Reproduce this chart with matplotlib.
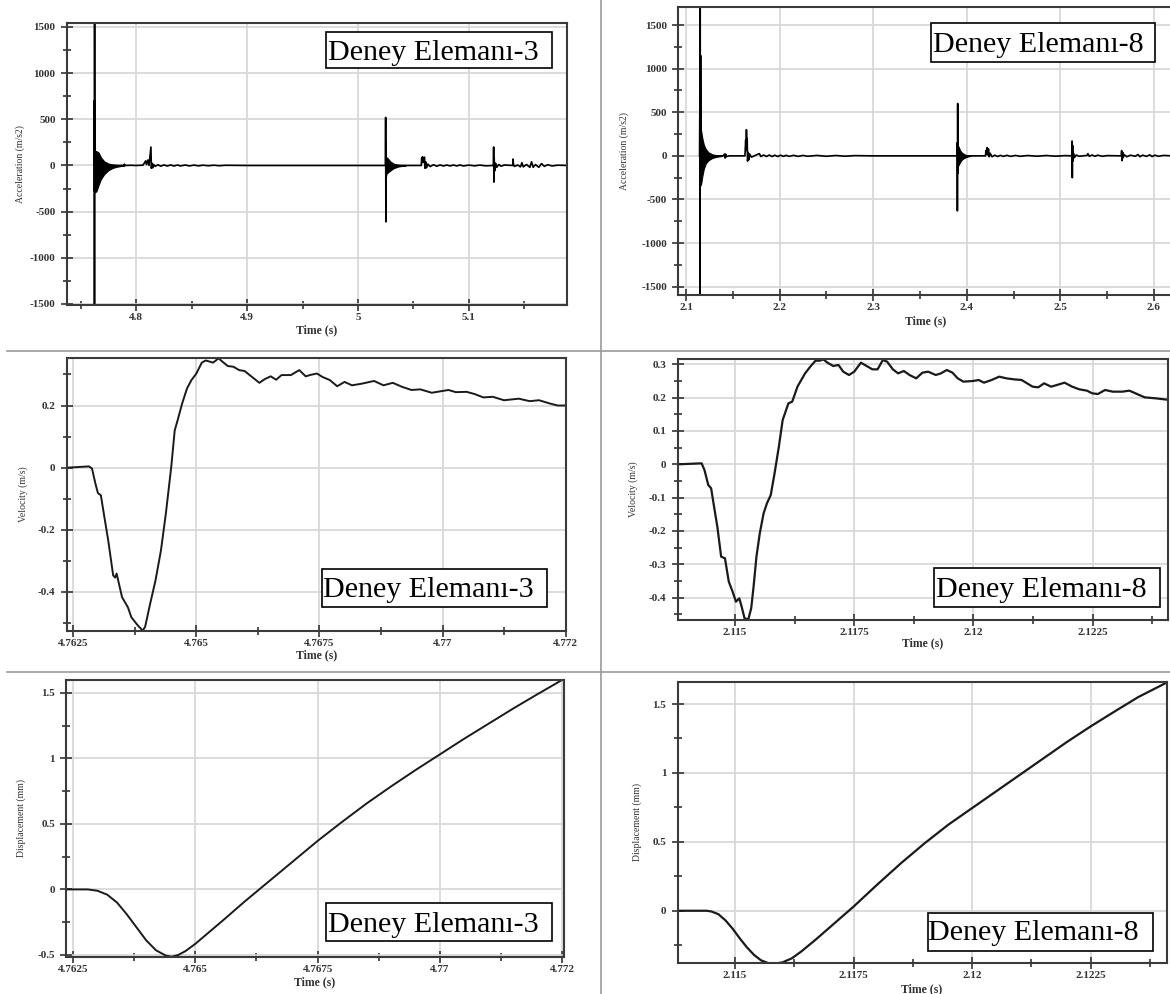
import numpy as np
import matplotlib
matplotlib.use("Agg")
import matplotlib.pyplot as plt
from matplotlib.patches import Rectangle
from matplotlib.lines import Line2D

plt.rcParams['font.family'] = ['Liberation Serif', 'DejaVu Serif']

W, H = 1170, 994

# ---------------- data ----------------
# acceleration, Deney Elemani-3 (time s, m/s2)
acc3 = [(4.7620, 0), (4.7622, 700), (4.7623, -1600), (4.7624, 1600), (4.7625, -280),
        (4.7626, 160), (4.7627, -250), (4.7640, 0), (4.7890, 0), (4.7893, 15), (4.7897, 0),
        (4.7950, 2), (4.8000, 0), (4.8060, 3), (4.8085, 50), (4.8092, 10), (4.8105, 60),
        (4.8115, 0), (4.8132, 200), (4.8136, -30), (4.8142, 25), (4.8148, -25), (4.8155, 12),
        (4.8170, -10), (4.8195, 8), (4.8220, -8), (4.8250, 6), (4.8280, -6), (4.8310, 6),
        (4.8340, -6), (4.8370, 5), (4.8400, -5), (4.8440, 5), (4.8480, -5), (4.8520, 4),
        (4.8560, -4), (4.8600, 3), (4.8650, -3), (4.8700, 3), (4.8750, -3), (4.8800, 2),
        (4.9000, 0), (5.0247, 0), (5.0249, 520), (5.0251, -610), (5.0253, 250), (5.0255, -120),
        (5.0260, 0), (5.0570, 0), (5.0574, 80), (5.0578, 40), (5.0582, 95), (5.0586, 30),
        (5.0600, 90), (5.0604, -30), (5.0610, 40), (5.0618, -25), (5.0630, 15), (5.0650, -12),
        (5.0680, 8), (5.0710, -8), (5.0740, 6), (5.0770, -6), (5.0800, 5), (5.0830, -5),
        (5.0860, 5), (5.0890, -5), (5.0920, 5), (5.0950, -5), (5.1000, 4), (5.1050, -4),
        (5.1100, 4), (5.1150, -4), (5.1221, 0), (5.1223, 200), (5.1225, -180), (5.1228, 80),
        (5.1232, -60), (5.1240, 25), (5.1250, -20), (5.1270, 10), (5.1290, -8), (5.1320, 5),
        (5.1395, 0), (5.1398, 70), (5.1402, 10), (5.1410, -10), (5.1440, 5), (5.1465, -15),
        (5.1478, 30), (5.1490, -15), (5.1520, 10), (5.1550, -20), (5.1565, 40), (5.1580, -20),
        (5.1600, 10), (5.1630, -20), (5.1655, 20), (5.1680, -10), (5.1710, 8), (5.1750, -5),
        (5.1800, 3), (5.1890, 0)]
# dense ringing after impacts: (time, upper envelope, lower envelope)
acc3_ring1 = [(4.7627, 160, -290), (4.7640, 155, -280), (4.7660, 140, -210), (4.7680, 90, -150),
              (4.7710, 45, -95), (4.7750, 20, -50), (4.7790, 10, -25), (4.7830, 5, -12),
              (4.7870, 2, -4), (4.7890, 0, 0)]
acc3_ring2 = [(5.0255, 90, -90), (5.0270, 75, -75), (5.0290, 45, -55), (5.0320, 20, -30),
              (5.0360, 8, -12), (5.0400, 3, -4), (5.0430, 0, 0)]

# acceleration, Deney Elemani-8
acc8 = [(2.1145, 0), (2.1148, 550), (2.1150, -1700), (2.1152, 1800), (2.1154, -350),
        (2.1156, 1150), (2.1158, 320), (2.1160, -300), (2.1170, 0), (2.1395, 0),
        (2.1412, 20), (2.1418, -25), (2.1424, 20), (2.1430, -10), (2.1460, 0), (2.1630, 0),
        (2.1638, 180), (2.1642, 60), (2.1646, 300), (2.1650, 120), (2.1654, 200),
        (2.1658, -60), (2.1665, 40), (2.1672, -45), (2.1680, 20), (2.1700, -15), (2.1740, 5),
        (2.1770, 20), (2.1785, 25), (2.1800, -8), (2.1830, 10), (2.1860, -8), (2.1890, 10),
        (2.1920, -8), (2.1950, 8), (2.1980, -8), (2.2010, 8), (2.2040, -6), (2.2070, 6),
        (2.2100, -6), (2.2150, 6), (2.2200, -6), (2.2250, 5), (2.2300, -5), (2.2400, 5),
        (2.2500, -5), (2.2600, 4), (2.2700, -4), (2.2800, 3), (2.3000, 0), (2.3895, 0),
        (2.3898, 150), (2.3900, -630), (2.3903, 600), (2.3906, -200), (2.3910, 100),
        (2.3920, 0), (2.4200, 0), (2.4205, 60), (2.4210, 20), (2.4218, 95), (2.4224, 10),
        (2.4232, 80), (2.4240, -10), (2.4250, 30), (2.4270, -10), (2.4300, 8), (2.4330, -8),
        (2.4360, 6), (2.4390, -6), (2.4430, 6), (2.4470, -6), (2.4520, 5), (2.4570, -5),
        (2.4650, 4), (2.4750, -4), (2.4850, 4), (2.4950, -4), (2.5050, 3), (2.5122, 0),
        (2.5125, 170), (2.5128, -250), (2.5131, 120), (2.5135, -60), (2.5140, 30),
        (2.5150, -20), (2.5170, 10), (2.5200, -5), (2.5285, 5), (2.5295, 25), (2.5310, -5),
        (2.5340, 10), (2.5370, -5), (2.5400, 8), (2.5450, -5), (2.5500, 3), (2.5650, 0),
        (2.5655, 60), (2.5660, -55), (2.5666, 40), (2.5672, -20), (2.5680, 15), (2.5710, -10),
        (2.5750, 8), (2.5800, -5), (2.5830, 15), (2.5850, -10), (2.5880, 8), (2.5920, -6),
        (2.5955, 12), (2.5980, -8), (2.6010, 8), (2.6050, -5), (2.6100, 5), (2.6200, 0)]
acc8_ring1 = [(2.1160, 300, -330), (2.1175, 200, -230), (2.1190, 130, -150), (2.1210, 80, -90),
              (2.1240, 40, -50), (2.1280, 18, -25), (2.1320, 8, -12), (2.1360, 3, -5),
              (2.1390, 0, 0)]
acc8_ring2 = [(2.3910, 110, -110), (2.3930, 60, -70), (2.3950, 35, -40), (2.3980, 15, -20),
              (2.4010, 5, -8), (2.4040, 0, 0)]

# velocity (m/s)
vel3 = [(4.76239, 0), (4.76282, 0.004), (4.76288, -0.003), (4.76295, -0.052), (4.76300, -0.082),
        (4.76306, -0.089), (4.76312, -0.148), (4.76321, -0.235), (4.76331, -0.347),
        (4.76335, -0.354), (4.76338, -0.341), (4.76349, -0.417), (4.76361, -0.450),
        (4.76368, -0.482), (4.76380, -0.506), (4.76391, -0.525), (4.76396, -0.512),
        (4.76406, -0.439), (4.76417, -0.363), (4.76428, -0.267), (4.76438, -0.148),
        (4.76449, 0.003), (4.76456, 0.120), (4.76462, 0.153), (4.76471, 0.206),
        (4.76481, 0.255), (4.76490, 0.282), (4.76500, 0.303), (4.76511, 0.338),
        (4.76519, 0.345), (4.76534, 0.338), (4.76545, 0.352), (4.76553, 0.341),
        (4.76564, 0.327), (4.76575, 0.325), (4.76587, 0.314), (4.76598, 0.311),
        (4.76613, 0.292), (4.76628, 0.273), (4.76639, 0.285), (4.76651, 0.294),
        (4.76662, 0.283), (4.76673, 0.298), (4.76692, 0.298), (4.76709, 0.314),
        (4.76722, 0.294), (4.76733, 0.299), (4.76745, 0.303), (4.76756, 0.292),
        (4.76771, 0.282), (4.76786, 0.262), (4.76801, 0.276), (4.76816, 0.265),
        (4.76835, 0.270), (4.76861, 0.279), (4.76880, 0.265), (4.76899, 0.273),
        (4.76918, 0.260), (4.76937, 0.250), (4.76955, 0.252), (4.76978, 0.241),
        (4.77012, 0.250), (4.77027, 0.243), (4.77049, 0.244), (4.77065, 0.237),
        (4.77083, 0.226), (4.77102, 0.228), (4.77125, 0.217), (4.77155, 0.222),
        (4.77177, 0.214), (4.77196, 0.217), (4.77219, 0.206), (4.77234, 0.200),
        (4.77251, 0.200)]
vel8 = [(2.11380, 0), (2.11430, 0.003), (2.11436, -0.017), (2.11444, -0.062), (2.11450, -0.072),
        (2.11455, -0.117), (2.11463, -0.187), (2.11471, -0.277), (2.11479, -0.282),
        (2.11487, -0.352), (2.11495, -0.382), (2.11502, -0.412), (2.11509, -0.402),
        (2.11514, -0.427), (2.11520, -0.462), (2.11528, -0.465), (2.11534, -0.432),
        (2.11539, -0.367), (2.11545, -0.277), (2.11552, -0.207), (2.11560, -0.147),
        (2.11567, -0.117), (2.11575, -0.092), (2.11583, -0.027), (2.11592, 0.053),
        (2.11600, 0.133), (2.11612, 0.183), (2.11620, 0.188), (2.11631, 0.233),
        (2.11647, 0.273), (2.11659, 0.295), (2.11669, 0.311), (2.11678, 0.311),
        (2.11685, 0.315), (2.11694, 0.305), (2.11706, 0.295), (2.11717, 0.298),
        (2.11727, 0.278), (2.11739, 0.268), (2.11750, 0.278), (2.11764, 0.305),
        (2.11776, 0.295), (2.11788, 0.285), (2.11799, 0.285), (2.11810, 0.313),
        (2.11819, 0.308), (2.11831, 0.285), (2.11842, 0.273), (2.11854, 0.280),
        (2.11866, 0.268), (2.11880, 0.258), (2.11893, 0.275), (2.11905, 0.278),
        (2.11921, 0.268), (2.11932, 0.273), (2.11944, 0.283), (2.11956, 0.275),
        (2.11967, 0.258), (2.11979, 0.248), (2.11999, 0.250), (2.12011, 0.253),
        (2.12022, 0.245), (2.12038, 0.253), (2.12054, 0.263), (2.12069, 0.258),
        (2.12085, 0.255), (2.12101, 0.253), (2.12124, 0.233), (2.12136, 0.231),
        (2.12148, 0.243), (2.12163, 0.233), (2.12175, 0.238), (2.12191, 0.245),
        (2.12207, 0.233), (2.12222, 0.225), (2.12238, 0.221), (2.12249, 0.213),
        (2.12261, 0.211), (2.12276, 0.223), (2.12292, 0.218), (2.12312, 0.218),
        (2.12327, 0.221), (2.12343, 0.211), (2.12359, 0.201), (2.12382, 0.198),
        (2.12412, 0.193)]

# displacement (mm)
dis3 = [(4.76237, 0), (4.76280, 0), (4.76300, -0.010), (4.76320, -0.040), (4.76340, -0.100),
        (4.76360, -0.190), (4.76380, -0.290), (4.76400, -0.390), (4.76420, -0.465),
        (4.76440, -0.505), (4.76452, -0.513), (4.76465, -0.500), (4.76480, -0.470),
        (4.76500, -0.415), (4.76530, -0.320), (4.76560, -0.225), (4.76600, -0.095),
        (4.76650, 0.060), (4.76700, 0.215), (4.76750, 0.370), (4.76800, 0.515),
        (4.76850, 0.655), (4.76900, 0.785), (4.76950, 0.910), (4.77000, 1.030),
        (4.77050, 1.150), (4.77100, 1.265), (4.77150, 1.380), (4.77200, 1.490),
        (4.77250, 1.598)]
dis8 = [(2.11379, 0), (2.11440, 0), (2.11450, -0.005), (2.11465, -0.025), (2.11480, -0.070),
        (2.11495, -0.130), (2.11510, -0.200), (2.11525, -0.265), (2.11540, -0.320),
        (2.11555, -0.360), (2.11570, -0.380), (2.11585, -0.383), (2.11600, -0.375),
        (2.11620, -0.345), (2.11640, -0.295), (2.11670, -0.210), (2.11700, -0.120),
        (2.11750, 0.030), (2.11800, 0.190), (2.11850, 0.345), (2.11900, 0.490),
        (2.11950, 0.625), (2.12000, 0.745), (2.12050, 0.865), (2.12100, 0.985),
        (2.12150, 1.105), (2.12200, 1.225), (2.12250, 1.338), (2.12300, 1.445),
        (2.12350, 1.550), (2.12412, 1.659)]

# tick labels
acc3_xticks = [4.8, 4.9, 5.0, 5.1]
acc3_xlabels = ['4.8', '4.9', '5', '5.1']
acc8_xticks = [2.1, 2.2, 2.3, 2.4, 2.5, 2.6]
acc8_xlabels = ['2.1', '2.2', '2.3', '2.4', '2.5', '2.6']
acc_yticks = [-1500, -1000, -500, 0, 500, 1000, 1500]
acc_ylabels = ['-1500', '-1000', '-500', '0', '500', '1000', '1500']
t3_xticks = [4.7625, 4.765, 4.7675, 4.77, 4.7725]
t3_xlabels = ['4.7625', '4.765', '4.7675', '4.77', '4.772']
t8_xticks = [2.115, 2.1175, 2.12, 2.1225]
t8_xlabels = ['2.115', '2.1175', '2.12', '2.1225']
vel3_yticks = [-0.4, -0.2, 0, 0.2]
vel3_ylabels = ['-0.4', '-0.2', '0', '0.2']
vel8_yticks = [-0.4, -0.3, -0.2, -0.1, 0, 0.1, 0.2, 0.3]
vel8_ylabels = ['-0.4', '-0.3', '-0.2', '-0.1', '0', '0.1', '0.2', '0.3']
dis3_yticks = [-0.5, 0, 0.5, 1, 1.5]
dis3_ylabels = ['-0.5', '0', '0.5', '1', '1.5']
dis8_yticks = [0, 0.5, 1, 1.5]
dis8_ylabels = ['0', '0.5', '1', '1.5']

names = ['Deney Elemanı-3', 'Deney Elemanı-8']

# ---------------- figure ----------------
fig = plt.figure(figsize=(W / 100, H / 100), dpi=100)
fig.patch.set_facecolor('white')


def make_ax(l, t, r, b):
    return fig.add_axes([l / W, 1 - b / H, (r - l) / W, (b - t) / H])


def style(ax, box, xlim, ylim, xt, xtl, xmin, yt, ytl, ymin, ylabel, ylab_x, xlab_y):
    l, t, r, b = box
    ax.set_xlim(xlim)
    ax.set_ylim(ylim)
    ax.set_xticks(xt, xtl)
    ax.set_xticks(xmin, minor=True)
    ax.set_yticks(yt, ytl)
    ax.set_yticks(ymin, minor=True)
    ax.grid(True, which='major', color='#d6d6d6', lw=1.2)
    ax.set_axisbelow(True)
    for s in ax.spines.values():
        s.set_color('#3a3a3a')
        s.set_linewidth(1.5)
    ax.tick_params(which='major', direction='inout', length=8, width=1.2, color='#333333',
                   labelsize=8, labelcolor='#333333')
    ax.tick_params(which='minor', direction='inout', length=6, width=1.2, color='#333333')
    ax.tick_params(axis='x', pad=2)
    ax.tick_params(axis='y', pad=4)
    for lab in ax.get_xticklabels() + ax.get_yticklabels():
        lab.set_fontweight('bold')
    ax.set_ylabel(ylabel, fontsize=7, color='#333333', va='center')
    ax.set_xlabel('Time (s)', fontsize=8.5, fontweight='bold', color='#333333', va='center')
    ax.yaxis.set_label_coords((ylab_x - l) / (r - l), 0.5)
    ax.xaxis.set_label_coords(0.5, (b - xlab_y) / (b - t))


def tag(text, box, left, base):
    l, t, r, b = box
    fig.add_artist(Rectangle((l / W, 1 - b / H), (r - l) / W, (b - t) / H,
                             transform=fig.transFigure, facecolor='white',
                             edgecolor='black', lw=1.2, zorder=5))
    fig.text(left / W, 1 - base / H, text, fontsize=21.6, ha='left', va='baseline',
             color='black', zorder=6)


def mids(ticks, lo, hi, step):
    out = []
    v = ticks[0] - step * 2
    while v <= hi + 1e-9:
        if v >= lo - 1e-9:
            out.append(v)
        v += step
    return out


# panel 1: acceleration 3
box1 = (66.7, 23, 567.4, 305)
ax1 = make_ax(*box1)
r = np.array(acc3_ring1)
ax1.fill_between(r[:, 0], r[:, 2], r[:, 1], color='black', lw=0.8)
r = np.array(acc3_ring2)
ax1.fill_between(r[:, 0], r[:, 2], r[:, 1], color='black', lw=0.8)
a = np.array(acc3)
ax1.plot(a[:, 0], a[:, 1], color='black', lw=1.2)
style(ax1, box1, (4.73724, 5.18882), (-1511, 1543), acc3_xticks, acc3_xlabels,
      mids(acc3_xticks, 4.73724, 5.18882, 0.05), acc_yticks, acc_ylabels,
      mids(acc_yticks, -1511, 1543, 250), 'Acceleration (m/s2)', 20.4, 330)

# panel 2: acceleration 8
box2 = (678.3, 7.3, 1172, 295)
ax2 = make_ax(*box2)
r = np.array(acc8_ring1)
ax2.fill_between(r[:, 0], r[:, 2], r[:, 1], color='black', lw=0.8)
r = np.array(acc8_ring2)
ax2.fill_between(r[:, 0], r[:, 2], r[:, 1], color='black', lw=0.8)
a = np.array(acc8)
ax2.plot(a[:, 0], a[:, 1], color='black', lw=1.2)
style(ax2, box2, (2.0918, 2.6193), (-1595, 1703), acc8_xticks, acc8_xlabels,
      mids(acc8_xticks, 2.0918, 2.6193, 0.05), acc_yticks, acc_ylabels,
      mids(acc_yticks, -1595, 1703, 250), 'Acceleration (m/s2)', 624, 321.7)

# panel 3: velocity 3
box3 = (66.7, 358.3, 566, 630.7)
ax3 = make_ax(*box3)
a = np.array(vel3)
ax3.plot(a[:, 0], a[:, 1], color='#1a1a1a', lw=1.4)
style(ax3, box3, (4.762366, 4.772508), (-0.525, 0.352), t3_xticks, t3_xlabels,
      mids(t3_xticks, 4.762366, 4.772508, 0.00125), vel3_yticks, vel3_ylabels,
      mids(vel3_yticks, -0.525, 0.352, 0.1), 'Velocity (m/s)', 23, 655)

# panel 4: velocity 8
box4 = (677.7, 359, 1168, 620)
ax4 = make_ax(*box4)
a = np.array(vel8)
ax4.plot(a[:, 0], a[:, 1], color='#1a1a1a', lw=1.6)
style(ax4, box4, (2.113799, 2.124079), (-0.467, 0.316), t8_xticks, t8_xlabels,
      mids(t8_xticks, 2.113799, 2.124079, 0.00125), vel8_yticks, vel8_ylabels,
      mids(vel8_yticks, -0.467, 0.316, 0.05), 'Velocity (m/s)', 633.5, 643.3)

# panel 5: displacement 3
box5 = (66, 680, 563.7, 956.7)
ax5 = make_ax(*box5)
a = np.array(dis3)
ax5.plot(a[:, 0], a[:, 1], color='#1a1a1a', lw=1.4)
style(ax5, box5, (4.762357, 4.77253), (-0.513, 1.597), t3_xticks, t3_xlabels,
      mids(t3_xticks, 4.762357, 4.77253, 0.00125), dis3_yticks, dis3_ylabels,
      mids(dis3_yticks, -0.513, 1.597, 0.25), 'Displacement (mm)', 21.5, 982.3)

# panel 6: displacement 8
box6 = (677.5, 681.7, 1166.7, 962.7)
ax6 = make_ax(*box6)
a = np.array(dis8)
ax6.plot(a[:, 0], a[:, 1], color='#1a1a1a', lw=1.6)
style(ax6, box6, (2.113788, 2.124102), (-0.377, 1.662), t8_xticks, t8_xlabels,
      mids(t8_xticks, 2.113788, 2.124102, 0.00125), dis8_yticks, dis8_ylabels,
      mids(dis8_yticks, -0.377, 1.662, 0.25), 'Displacement (mm)', 637, 989)

# label boxes
tag(names[0], (326, 31.7, 552, 68.3), 328, 60)
tag(names[1], (931, 22.7, 1155, 61.7), 933, 51.7)
tag(names[0], (321.5, 569.3, 547.4, 606.7), 323, 596.7)
tag(names[1], (933.9, 568.3, 1159.6, 606.7), 935.7, 596.7)
tag(names[0], (326, 902.7, 551.9, 940.7), 327.8, 931.7)
tag(names[1], (927.5, 913.3, 1153, 950.7), 928.5, 940)

# panel separators
fig.add_artist(Line2D([601 / W, 601 / W], [0, 1], transform=fig.transFigure,
                      color='#9a9a9a', lw=1.2))
for yy in (351, 672):
    fig.add_artist(Line2D([7 / W, 1], [1 - yy / H, 1 - yy / H], transform=fig.transFigure,
                          color='#9a9a9a', lw=1.2))

fig.savefig('out.png', dpi=100, facecolor='white')
